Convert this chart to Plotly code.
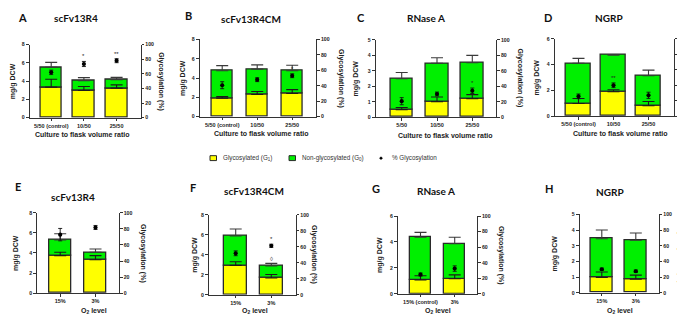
import plotly.graph_objects as go

W, H = 685, 314

# ---------------- data ----------------
ratio_cats = ["5/50 (control)", "10/50", "25/50"]
ratio_cats_c = ["5/50", "10/50", "25/50"]
o2_cats = ["15%", "3%"]
o2_cats_g = ["15% (control)", "3%"]

a_g1 = [3.34, 2.98, 3.23]
a_g1_err = [0.86, 0.43, 0.36]
a_total = [5.52, 4.05, 4.16]
a_total_err = [0.54, 0.33, 0.25]
a_glyc = [62, 73.5, 78]
a_glyc_err = [3, 3.5, 2.7]
a_stars = ["", "*", "**"]

b_g1 = [1.9, 2.3, 2.4]
b_g1_err = [0.17, 0.3, 0.4]
b_total = [4.75, 4.92, 4.75]
b_total_err = [0.54, 0.44, 0.57]
b_glyc = [40.7, 47.9, 53]
b_glyc_err = [4.5, 2.5, 2.5]
b_stars = ["", "", "*"]

c_g1 = [0.49, 1.01, 1.2]
c_g1_err = [0.14, 0.3, 0.26]
c_total = [2.49, 3.48, 3.52]
c_total_err = [0.4, 0.36, 0.47]
c_glyc = [20.7, 30, 34.2]
c_glyc_err = [4.6, 2.5, 3.5]
c_stars = ["", "", "*"]

d_g1 = [0.99, 1.9, 0.81]
d_g1_err = [0.38, 0.15, 0.33]
d_total = [4.1, 4.73, 3.14]
d_total_err = [0.38, 0.05, 0.43]
d_glyc = [25.7, 40, 27]
d_glyc_err = [3, 3, 4]
d_stars = ["", "**", ""]

e_g1 = [3.74, 3.32]
e_g1_err = [0.33, 0.42]
e_total = [5.3, 4.07]
e_total_err = [0.62, 0.32]
e_glyc = [72.8, 81.7]
e_glyc_err = [7.7, 2.5]
e_stars = ["", ""]

f_g1 = [2.94, 1.67]
f_g1_err = [0.36, 0.36]
f_total = [5.88, 2.88]
f_total_err = [0.69, 0.26]
f_glyc = [51.8, 61.2]
f_glyc_err = [3, 2]
f_stars = ["", "*"]

g_g1 = [1.06, 1.16]
g_g1_err = [0.33, 0.3]
g_total = [4.36, 3.86]
g_total_err = [0.38, 0.5]
g_glyc = [24.8, 32.4]
g_glyc_err = [2, 3.5]
g_stars = ["", ""]

h_g1 = [0.98, 0.875]
h_g1_err = [0.35, 0.25]
h_total = [3.44, 3.35]
h_total_err = [0.56, 0.46]
h_glyc = [30, 27.5]
h_glyc_err = [1.5, 1.5]
h_stars = ["", ""]

ratio_title = "Culture to flask volume ratio"
o2_title = "O<sub>2</sub> level"

# ---------------- styles / layout geometry (pixels) ----------------
YELLOW = "#FFFF00"
GREEN = "#00F000"
EDGE = "#2a2a2a"
AX = "#333333"
FONT = "Liberation Sans"
TFONT = "Lato"

def px(x):
    return x / W

def py(y):
    return 1 - y / H

panels = [
    dict(letter="A", title="scFv13R4", cats=ratio_cats, g1=a_g1, g1e=a_g1_err, tot=a_total, tote=a_total_err,
         gl=a_glyc, gle=a_glyc_err, stars=a_stars, xt=ratio_title,
         xl=21.7, xr=132.7, c0=43.2, s=32.7, bw=0.66, yt=34.3, yb=108.7, ymax=8, dt=2,
         tpos=(68, 7.5), lpos=(8, 7), ylx=5, yrx=153, xtpos=(74, 126)),
    dict(letter="B", title="scFv13R4CM", cats=ratio_cats, g1=b_g1, g1e=b_g1_err, tot=b_total, tote=b_total_err,
         gl=b_glyc, gle=b_glyc_err, stars=b_stars, xt=ratio_title,
         xl=191.7, xr=308.3, c0=214.2, s=35, bw=0.62, yt=29, yb=107.7, ymax=8, dt=2,
         tpos=(242.5, 8.3), lpos=(175, 5), ylx=175, yrx=333, xtpos=(253, 125)),
    dict(letter="C", title="RNase A", cats=ratio_cats_c, g1=c_g1, g1e=c_g1_err, tot=c_total, tote=c_total_err,
         gl=c_glyc, gle=c_glyc_err, stars=c_stars, xt=ratio_title,
         xl=367.7, xr=488.3, c0=393.7, s=35.3, bw=0.64, yt=29.3, yb=108.3, ymax=5, dt=1,
         tpos=(418, 7.3), lpos=(347, 6.7), ylx=348, yrx=512, xtpos=(437, 126.5)),
    dict(letter="D", title="NGRP", cats=ratio_cats, g1=d_g1, g1e=d_g1_err, tot=d_total, tote=d_total_err,
         gl=d_glyc, gle=d_glyc_err, stars=d_stars, xt=ratio_title,
         xl=546.8, xr=665.5, c0=570.5, s=35, bw=0.73, yt=28.3, yb=107.3, ymax=6, dt=2,
         tpos=(600.7, 7.3), lpos=(534, 6.7), ylx=529, yrx=None, xtpos=(612, 125)),
    dict(letter="E", title="scFv13R4", cats=o2_cats, g1=e_g1, g1e=e_g1_err, tot=e_total, tote=e_total_err,
         gl=e_glyc, gle=e_glyc_err, stars=e_stars, xt=o2_title,
         xl=29.3, xr=111, c0=52.2, s=35.3, bw=0.63, yt=205.7, yb=287.7, ymax=8, dt=2,
         tpos=(65, 189.3), lpos=(5, 179), ylx=8, yrx=135, xtpos=(85.7, 305.7)),
    dict(letter="F", title="scFv13R4CM", cats=o2_cats, g1=f_g1, g1e=f_g1_err, tot=f_total, tote=f_total_err,
         gl=f_glyc, gle=f_glyc_err, stars=f_stars, xt=o2_title,
         xl=201, xr=287.7, c0=227.7, s=35.6, bw=0.65, yt=207.7, yb=289.3, ymax=8, dt=2,
         tpos=(246, 183.3), lpos=(180, 180), ylx=187, yrx=306.7, xtpos=(246.7, 305.7)),
    dict(letter="G", title="RNase A", cats=o2_cats_g, g1=g_g1, g1e=g_g1_err, tot=g_total, tote=g_total_err,
         gl=g_glyc, gle=g_glyc_err, stars=g_stars, xt=o2_title,
         xl=390, xr=469.3, c0=412.5, s=34.2, bw=0.63, yt=209, yb=288.3, ymax=6, dt=2,
         tpos=(428.3, 183.3), lpos=(362, 181), ylx=372, yrx=493, xtpos=(430, 305.7)),
    dict(letter="H", title="NGRP", cats=o2_cats, g1=h_g1, g1e=h_g1_err, tot=h_total, tote=h_total_err,
         gl=h_glyc, gle=h_glyc_err, stars=h_stars, xt=o2_title,
         xl=571.7, xr=650.7, c0=593.8, s=34, bw=0.66, yt=207.3, yb=287.3, ymax=5, dt=1,
         tpos=(601.7, 185), lpos=(535, 181), ylx=547, yrx=673, xtpos=(611.7, 305.7)),
]

fig = go.Figure()
annotations = []
shapes = []
layout = {}

ytickfont = dict(family=FONT, size=5.2, color="#222", weight="bold")
xtickfont = dict(family=FONT, size=5.5, color="#222", weight="bold")
rtickfont_d = dict(family=FONT, size=5, color="#222", weight="bold")

for i, p in enumerate(panels, start=1):
    xa = f"x{i}"
    yl = f"y{i}"
    yr = f"y{i + 8}"
    n = len(p["cats"])
    green_h = [t - g for t, g in zip(p["tot"], p["g1"])]

    fig.add_trace(go.Bar(x=p["cats"], y=p["g1"], xaxis=xa, yaxis=yl, width=p["bw"],
                         marker=dict(color=YELLOW, line=dict(color=EDGE, width=1.3)),
                         showlegend=False, hoverinfo="skip"))
    fig.add_trace(go.Bar(x=p["cats"], y=green_h, base=p["g1"], xaxis=xa, yaxis=yl, width=p["bw"],
                         marker=dict(color=GREEN, line=dict(color=EDGE, width=1.3)),
                         showlegend=False, hoverinfo="skip"))
    # G1 error bars (upward)
    fig.add_trace(go.Scatter(x=p["cats"], y=p["g1"], xaxis=xa, yaxis=yl, mode="markers",
                             marker=dict(size=1, opacity=0),
                             error_y=dict(type="data", array=p["g1e"], arrayminus=[0] * n, symmetric=False,
                                          color="#1a1a1a", thickness=1.1, width=6),
                             showlegend=False, hoverinfo="skip"))
    # total error bars (upward)
    fig.add_trace(go.Scatter(x=p["cats"], y=p["tot"], xaxis=xa, yaxis=yl, mode="markers",
                             marker=dict(size=1, opacity=0),
                             error_y=dict(type="data", array=p["tote"], arrayminus=[0] * n, symmetric=False,
                                          color="#3a3a3a", thickness=1.1, width=6),
                             showlegend=False, hoverinfo="skip"))
    # % glycosylation points
    fig.add_trace(go.Scatter(x=p["cats"], y=p["gl"], xaxis=xa, yaxis=yr, mode="markers",
                             marker=dict(size=4.2, color="black", symbol="circle"),
                             error_y=dict(type="data", array=p["gle"], color="#111", thickness=0.9, width=2),
                             showlegend=False, hoverinfo="skip"))

    xr0 = (p["xl"] - p["c0"]) / p["s"]
    xr1 = (p["xr"] - p["c0"]) / p["s"]
    suffix = "" if i == 1 else str(i)
    layout[f"xaxis{suffix}"] = dict(
        domain=[px(p["xl"]), px(p["xr"])], anchor=yl, type="category", range=[xr0, xr1],
        showline=True, linecolor=AX, linewidth=1.2, ticks="outside", ticklen=2.5, tickwidth=1,
        tickcolor=AX, tickfont=xtickfont, showgrid=False, zeroline=False, fixedrange=True,
        categoryorder="array", categoryarray=p["cats"])
    layout[f"yaxis{i}" if i > 1 else "yaxis"] = dict(
        domain=[py(p["yb"]), py(p["yt"])], anchor=xa, range=[0, p["ymax"]], dtick=p["dt"],
        showline=True, linecolor=AX, linewidth=1.2, ticks="outside", ticklen=3, tickwidth=1,
        tickcolor=AX, tickfont=ytickfont, showgrid=False, zeroline=False, fixedrange=True)
    right = dict(
        overlaying=yl, side="right", anchor=xa, range=[0, 100], dtick=20,
        showline=True, linecolor=AX, linewidth=1.2, ticks="outside", ticklen=2.5, tickwidth=1,
        tickcolor=AX, tickfont=ytickfont, showgrid=False, zeroline=False, fixedrange=True)
    if p["letter"] == "D":
        right.update(ticklen=2, tickfont=rtickfont_d)
    layout[f"yaxis{i + 8}"] = right

    # significance stars
    for c, g, e, st in zip(p["cats"], p["gl"], p["gle"], p["stars"]):
        if st:
            annotations.append(dict(x=c, y=g + e, xref=xa, yref=yr, text=st, showarrow=False,
                                    yanchor="bottom", yshift=0,
                                    font=dict(family=FONT, size=6, color="#222")))

    # titles & labels
    annotations.append(dict(x=px(p["tpos"][0]), y=py(p["tpos"][1]), xref="paper", yref="paper",
                            text=p["title"], showarrow=False, xanchor="center", yanchor="middle",
                            font=dict(family=TFONT, size=10, color="#111", weight="bold")))
    annotations.append(dict(x=px(p["lpos"][0]), y=py(p["lpos"][1]), xref="paper", yref="paper",
                            text=p["letter"], showarrow=False, xanchor="left", yanchor="middle",
                            font=dict(family=TFONT, size=11, color="#111", weight="bold")))
    ymid = (p["yt"] + p["yb"]) / 2
    annotations.append(dict(x=px(p["ylx"]), y=py(ymid), xref="paper", yref="paper",
                            text="mg/g DCW", showarrow=False, textangle=-90,
                            xanchor="center", yanchor="middle",
                            font=dict(family=FONT, size=7, color="#222", weight="bold")))
    if p["yrx"] is not None:
        annotations.append(dict(x=px(p["yrx"]), y=py(ymid), xref="paper", yref="paper",
                                text="Glycosylation (%)", showarrow=False, textangle=90,
                                xanchor="center", yanchor="middle",
                                font=dict(family=FONT, size=7, color="#222", weight="bold")))
    annotations.append(dict(x=px(p["xtpos"][0]), y=py(p["xtpos"][1]), xref="paper", yref="paper",
                            text=p["xt"], showarrow=False, xanchor="center", yanchor="middle",
                            font=dict(family=FONT, size=7, color="#222", weight="bold")))

# extra open marker in panel F (3%)
annotations.append(dict(x=o2_cats[1], y=45, xref="x6", yref="y14", text="◊", showarrow=False,
                        font=dict(family=FONT, size=6, color="#444")))

# ---------------- legend (manual) ----------------
leg_y = 150
shapes.append(dict(type="rect", xref="paper", yref="paper", x0=px(202), x1=px(208.5),
                   y0=py(152.5), y1=py(147.5), fillcolor=YELLOW, line=dict(color=EDGE, width=1)))
shapes.append(dict(type="rect", xref="paper", yref="paper", x0=px(281), x1=px(287.5),
                   y0=py(152.5), y1=py(147.5), fillcolor=GREEN, line=dict(color=EDGE, width=1)))
shapes.append(dict(type="circle", xref="paper", yref="paper", x0=px(371.8), x1=px(374.2),
                   y0=py(151.2), y1=py(148.8), fillcolor="black", line=dict(color="black", width=0.5)))
legfont = dict(family=FONT, size=6.3, color="#333")
annotations.append(dict(x=px(212.5), y=py(leg_y), xref="paper", yref="paper", showarrow=False,
                        text="Glycosylated (G<sub>1</sub>)", xanchor="left", yanchor="middle", font=legfont))
annotations.append(dict(x=px(292), y=py(leg_y), xref="paper", yref="paper", showarrow=False,
                        text="Non-glycosylated (G<sub>0</sub>)", xanchor="left", yanchor="middle", font=legfont))
annotations.append(dict(x=px(382), y=py(leg_y), xref="paper", yref="paper", showarrow=False,
                        text="% Glycosylation", xanchor="left", yanchor="middle", font=legfont))

fig.update_layout(
    width=W, height=H, margin=dict(l=0, r=0, t=0, b=0),
    paper_bgcolor="white", plot_bgcolor="rgba(0,0,0,0)",
    barmode="overlay", bargap=0, showlegend=False,
    annotations=annotations, shapes=shapes, **layout)

fig.write_html("out.html")
